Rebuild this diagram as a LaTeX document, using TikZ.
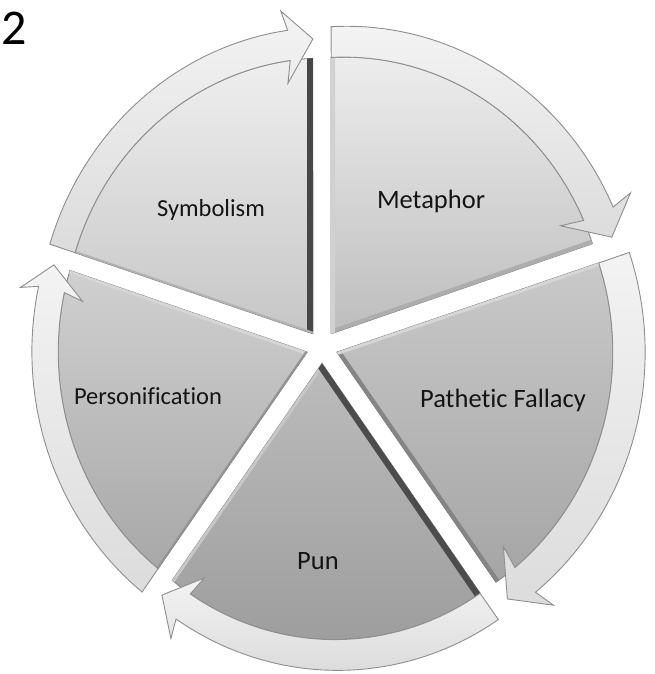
\documentclass[tikz,border=0pt]{standalone}
\usepackage{fontspec}
\setmainfont{Carlito}[Ligatures=NoCommon]
\definecolor{ringtop}{HTML}{F3F3F3}
\definecolor{ringbot}{HTML}{DCDCDC}
\definecolor{ringline}{HTML}{8E8E8E}
\definecolor{wline}{HTML}{7C7C7C}
\definecolor{txt}{HTML}{141414}
\definecolor{symT}{HTML}{EFEFEF}\definecolor{symB}{HTML}{C6C6C6}
\definecolor{metT}{HTML}{EDEDED}\definecolor{metB}{HTML}{BDBDBD}
\definecolor{patT}{HTML}{C9C9C9}\definecolor{patB}{HTML}{A5A5A5}
\definecolor{punT}{HTML}{BCBCBC}\definecolor{punB}{HTML}{9E9E9E}
\definecolor{perT}{HTML}{D0D0D0}\definecolor{perB}{HTML}{A8A8A8}
\def\segd{16}
\def\segRi{270}
\def\segRo{300}
\def\segRt{289}
% #1 bisector angle, #2 name, #3 top colour, #4 bottom colour,
% #5 cw-edge strip colour, #6 ccw-edge strip colour, #7 cw width, #8 ccw width
\newcommand\drawseg[8]{%
  \pgfmathsetmacro\segax{\segd*cos(#1)}%
  \pgfmathsetmacro\segay{\segd*sin(#1)}%
  \pgfmathsetmacro\segta{#1+36}%
  \pgfmathsetmacro\segtb{#1-36}%
  \pgfmathsetmacro\seghb{#1-31}%
  \pgfmathsetmacro\seghh{#1-30}%
  \pgfmathsetmacro\segcwn{#1+54}%
  \pgfmathsetmacro\segccwn{#1-54}%
  \coordinate (#2-apex) at ({QX(0,0)},{QY(0,0)});
  \shadedraw[wedge, top color=#3, bottom color=#4] (#2-apex)
    -- plot[domain=0:1,samples=40] ({QX(\segRi,\segta-72*\x)},{QY(\segRi,\segta-72*\x)})
    -- cycle;
  \fill[#5] ({SX(0.33*#7,\segtb,#7,\segcwn)},{SY(0.33*#7,\segtb,#7,\segcwn)})
    -- (#2-apex)
    -- ({SX(\segRi,\segtb,0,\segcwn)},{SY(\segRi,\segtb,0,\segcwn)})
    -- ({SX(\segRi,\segtb,#7,\segcwn)},{SY(\segRi,\segtb,#7,\segcwn)}) -- cycle;
  \fill[#6] ({SX(0.33*#8,\segta,#8,\segccwn)},{SY(0.33*#8,\segta,#8,\segccwn)})
    -- (#2-apex)
    -- ({SX(\segRi,\segta,0,\segccwn)},{SY(\segRi,\segta,0,\segccwn)})
    -- ({SX(\segRi,\segta,#8,\segccwn)},{SY(\segRi,\segta,#8,\segccwn)}) -- cycle;
  \shadedraw[ring]
    plot[domain=0:1,samples=40] ({QX(\segRo,\segta+(\seghb-\segta)*\x)},{QY(\segRo,\segta+(\seghb-\segta)*\x)})
    -- ({QX(\segRo+20,\seghh)},{QY(\segRo+20,\seghh)})
    -- ({QX(\segRt,\segtb)},{QY(\segRt,\segtb)})
    -- ({QX(\segRi-22,\seghh)},{QY(\segRi-22,\seghh)})
    -- plot[domain=0:1,samples=40] ({QX(\segRi,\seghb+(\segta-\seghb)*\x)},{QY(\segRi,\seghb+(\segta-\seghb)*\x)})
    -- cycle;
}
\begin{document}
\begin{tikzpicture}[x=1pt,y=-1pt,
  declare function={
    PX(\uu,\vv)=322+0.970*\uu/(1-\uu/5848);
    PY(\uu,\vv)=347-1.022*\vv/(1-\uu/5848);
    QX(\myr,\mya)=PX(\segax+\myr*cos(\mya),\segay+\myr*sin(\mya));
    QY(\myr,\mya)=PY(\segax+\myr*cos(\mya),\segay+\myr*sin(\mya));
    SX(\myr,\mya,\myw,\myn)=PX(\segax+\myr*cos(\mya)+\myw*cos(\myn),\segay+\myr*sin(\mya)+\myw*sin(\myn));
    SY(\myr,\mya,\myw,\myn)=PY(\segax+\myr*cos(\mya)+\myw*cos(\myn),\segay+\myr*sin(\mya)+\myw*sin(\myn));
  },
  wedge/.style={draw=wline, line width=0.8pt, line join=round},
  ring/.style={top color=ringtop, bottom color=ringbot, draw=ringline, line width=0.9pt, line join=miter},
  lbl/.style={font=\fontsize{26.5}{31}\selectfont, text=txt, inner sep=0pt, anchor=base},
  lbls/.style={lbl, font=\fontsize{24.5}{29}\selectfont},
]
\useasboundingbox (0,0) rectangle (655,674);
\drawseg{126}{sym}{symT}{symB}{black!72}{black!30}{6}{2}
\drawseg{54}{met}{metT}{metB}{black!32}{black!18}{4}{4}
\drawseg{-18}{pat}{patT}{patB}{black!48}{black!16}{4}{3}
\drawseg{-90}{pun}{punT}{punB}{black!22}{black!70}{3}{6}
\drawseg{198}{per}{perT}{perB}{black!16}{black!42}{3}{2}
\node[lbls] (symt) at (211,216) {Symbolism};
\node[lbl] (mett) at (431,208) {Metaphor};
\node[lbl] (patt) at (503,407) {Pathetic Fallacy};
\node[lbls] (pert) at (148,404) {Personification};
\node[lbl] (punt) at (318,569) {Pun};
\node[font=\fontsize{50}{60}\selectfont, text=black, inner sep=0pt, anchor=base west] (num) at (1,45) {2};
\end{tikzpicture}
\end{document}
